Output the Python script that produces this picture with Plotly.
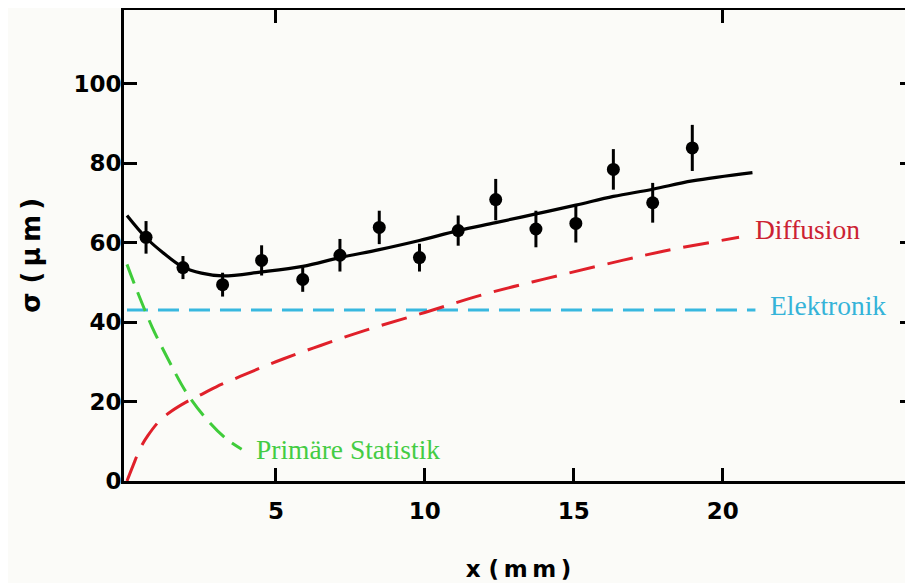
import plotly.graph_objects as go

# ---- data ----
pts_x = [0.64, 1.88, 3.21, 4.52, 5.90, 7.15, 8.47, 9.82, 11.12, 12.38, 13.73, 15.07, 16.33, 17.65, 18.98]
pts_y = [61.3, 53.7, 49.4, 55.5, 50.7, 56.8, 63.8, 56.2, 63.0, 70.8, 63.4, 64.8, 78.4, 70.0, 83.8]
pts_err = [4.1, 2.9, 3.0, 3.8, 3.1, 4.1, 4.2, 3.5, 3.8, 5.2, 4.6, 4.8, 5.1, 5.0, 5.8]

fit_x = [0, 0.64, 1.2, 1.88, 2.5, 3.21, 4.52, 5.9, 7.15, 8.47, 9.82, 11.12, 12.38, 13.73, 15.07, 16.33, 17.65, 18.98, 21.0]
fit_y = [66.8, 61.2, 57.5, 53.8, 52.3, 51.6, 52.6, 54.0, 56.2, 58.2, 60.5, 63.0, 65.0, 67.2, 69.4, 71.6, 73.4, 75.5, 77.6]

diff_x = [0, 0.2, 0.45, 0.7, 1.1, 1.5, 2.0, 2.45, 3.0, 3.8, 4.5, 5.24, 6.5, 8, 10, 12, 14, 16, 18, 20.55]
diff_y = [0, 3.8, 8.3, 11.4, 15.2, 17.6, 19.9, 21.6, 23.7, 26.3, 28.5, 30.7, 34.1, 37.9, 42.4, 47.0, 50.8, 54.4, 57.8, 61.3]

prim_x = [0, 0.33, 0.84, 1.39, 2.0, 2.68, 3.35, 3.85]
prim_y = [54.5, 48.0, 38.8, 30.5, 22.2, 15.5, 10.5, 8.0]

elek_x = [0, 21.1]
elek_y = [43, 43]

x_ticks = [5, 10, 15, 20]
x_top_ticks = [5, 20]
y_ticks = [0, 20, 40, 60, 80, 100]

labels = ["Diffusion", "Elektronik", "Primäre Statistik"]
label_x = [21.02, 21.52, 4.26]
label_y = [63.2, 44.1, 7.9]

y_title = "σ (\u2009μ\u2009m\u2009)"
x_title = "x (\u2009m\u2009m\u2009)"

RED = "#e0202a"
CYAN = "#38b8df"
GREEN = "#3fcc3a"
BG = "#fbfbf8"
label_colors = ["#cc2233", "#35b3d8", "#44cc44"]

fig = go.Figure()

fig.add_trace(go.Scatter(x=elek_x, y=elek_y, mode="lines",
                         line=dict(color=CYAN, width=3, dash="21px,10px"), hoverinfo="skip"))
fig.add_trace(go.Scatter(x=diff_x, y=diff_y, mode="lines",
                         line=dict(color=RED, width=3, dash="26px,13px", shape="spline"), hoverinfo="skip"))
fig.add_trace(go.Scatter(x=prim_x, y=prim_y, mode="lines",
                         line=dict(color=GREEN, width=3, dash="20px,10px", shape="spline"), hoverinfo="skip"))
fig.add_trace(go.Scatter(x=fit_x, y=fit_y, mode="lines",
                         line=dict(color="black", width=3.2, shape="spline"), hoverinfo="skip"))
fig.add_trace(go.Scatter(x=pts_x, y=pts_y, mode="markers",
                         marker=dict(size=13, color="black"),
                         error_y=dict(type="data", array=pts_err, color="black", thickness=3, width=0)))

for t, xx, yy, c in zip(labels, label_x, label_y, label_colors):
    fig.add_annotation(x=xx, y=yy, text=t, showarrow=False, xanchor="left", yanchor="middle",
                       font=dict(family="Liberation Serif", size=27.5, color=c))

# y-axis title placed as rotated text left of the tick labels
fig.add_annotation(x=-0.118, y=0.48, xref="paper", yref="paper", text=y_title, textangle=-90,
                   showarrow=False, xanchor="center", yanchor="middle",
                   font=dict(family="DejaVu Sans", size=26, color="black", weight="bold"))

AXFONT = dict(family="DejaVu Sans", size=23, color="black", weight="bold")
xr = [-0.1, 26.39]
fig.update_layout(
    width=905, height=575, autosize=False,
    margin=dict(l=116, r=0, t=2, b=101.5, autoexpand=False),
    paper_bgcolor=BG, plot_bgcolor=BG,
    showlegend=False,
    font=dict(family="DejaVu Sans", size=23, color="black"),
    xaxis=dict(range=xr, tickvals=x_ticks, ticks="inside", ticklen=13, tickwidth=2.5,
               tickcolor="black", showline=True, linewidth=3, linecolor="black", mirror=True,
               showgrid=False, zeroline=False, tickfont=AXFONT, automargin=False,
               ticklabelstandoff=7,
               title=dict(text=x_title, font=AXFONT, standoff=39)),
    xaxis2=dict(range=xr, overlaying="x", side="top", anchor="y", tickvals=x_top_ticks,
                ticks="inside", ticklen=13, tickwidth=2.5, tickcolor="black", automargin=False,
                showticklabels=False, showgrid=False, zeroline=False, showline=False),
    yaxis=dict(range=[0, 118.5], tickvals=y_ticks, ticks="inside", ticklen=13, tickwidth=2.5,
               tickcolor="black", showline=True, linewidth=3, linecolor="black", mirror="ticks",
               showgrid=False, zeroline=False, tickfont=AXFONT, automargin=False,
               ticklabelstandoff=-5),
)
fig.add_trace(go.Scatter(x=[None], y=[None], xaxis="x2", showlegend=False, hoverinfo="skip"))

fig.write_html("out.html")
